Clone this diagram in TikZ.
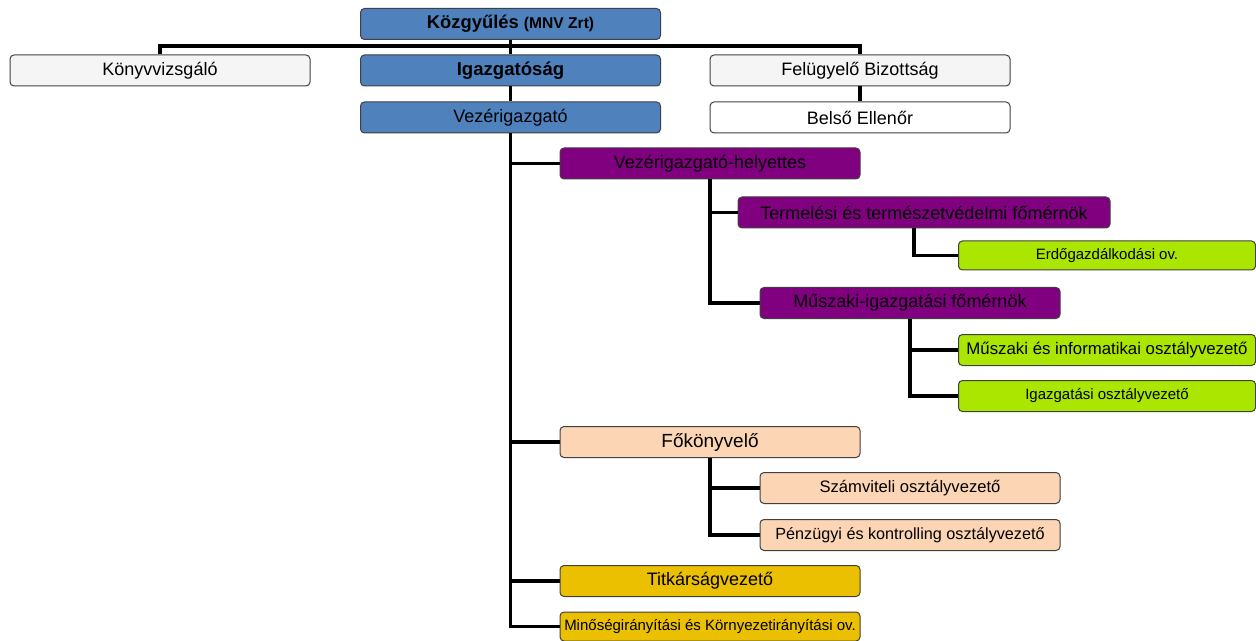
\documentclass[tikz,border=0pt]{standalone}
\usepackage{fontspec}
\setmainfont{Liberation Sans}
\usetikzlibrary{positioning}
\definecolor{boardcolor}{RGB}{79, 129, 189}
\definecolor{auditcolor}{RGB}{245, 245, 245}
\definecolor{deputycolor}{RGB}{128, 0, 128}
\definecolor{deptcolor}{RGB}{170, 230, 0}
\definecolor{financecolor}{RGB}{252, 213, 180}
\definecolor{officecolor}{RGB}{235, 192, 0}

\begin{document}
\begin{tikzpicture}[
    x=0.5pt, y=-0.5pt,
    unit/.style={rectangle, draw=black!75, line width=0.5pt, rounded corners=2pt, minimum width=150pt, minimum height=15.5pt, inner sep=0pt, align=center, font=\fontsize{9}{10}\selectfont},
    link/.style={line width=1.8pt}
]
    \useasboundingbox (0,0) rectangle (1256,641);

    % Top level
    \node[unit, fill=boardcolor, font=\fontsize{9.2}{10}\selectfont\bfseries] (kozgy) at (510.5, 24) {Közgyűlés {\fontsize{7.8}{9}\selectfont(MNV Zrt)}};
    \node[unit, fill=auditcolor] (konyv) at (160, 70.5) {Könyvvizsgáló};
    \node[unit, fill=boardcolor, font=\fontsize{9.3}{10}\selectfont\bfseries] (igaz) at (510.5, 70.5) {Igazgatóság};
    \node[unit, fill=auditcolor] (felugy) at (860, 70.5) {Felügyelő Bizottság};
    \node[unit, fill=white] (belso) at (860, 117.5) {Belső Ellenőr};
    \node[unit, fill=boardcolor] (vezer) at (510.5, 117.5) {Vezérigazgató};

    % Deputy branch
    \node[unit, fill=deputycolor] (vh) at (710, 163.5) {Vezérigazgató-helyettes};
    \node[unit, fill=deputycolor, minimum width=186pt] (term) at (924, 212.5) {Termelési és természetvédelmi főmérnök};
    \node[unit, fill=deptcolor, minimum width=148.5pt, minimum height=14.5pt, font=\fontsize{7.5}{9}\selectfont] (erdo) at (1107, 255.5) {Erdőgazdálkodási ov.};
    \node[unit, fill=deputycolor] (musz) at (910, 303) {Műszaki-igazgatási főmérnök};
    \node[unit, fill=deptcolor, minimum width=148.5pt, font=\fontsize{8.4}{9}\selectfont] (mi) at (1107, 350) {Műszaki és informatikai osztályvezető};
    \node[unit, fill=deptcolor, minimum width=148.5pt, font=\fontsize{7.5}{9}\selectfont] (ig) at (1107, 396) {Igazgatási osztályvezető};

    % Finance branch
    \node[unit, fill=financecolor, font=\fontsize{9.5}{10}\selectfont] (fokonyv) at (710, 442) {Főkönyvelő};
    \node[unit, fill=financecolor, font=\fontsize{8.3}{9}\selectfont] (szamv) at (910, 488) {Számviteli osztályvezető};
    \node[unit, fill=financecolor, font=\fontsize{8.1}{9}\selectfont] (penz) at (910, 535) {Pénzügyi és kontrolling osztályvezető};

    % Offices
    \node[unit, fill=officecolor] (titk) at (710, 581) {Titkárságvezető};
    \node[unit, fill=officecolor, minimum height=14.5pt, font=\fontsize{7.5}{9}\selectfont] (minos) at (710, 626.5) {Minőségirányítási és Környezetirányítási ov.};

    % Connectors
    \coordinate (bus) at (510.5, 46);
    \draw[link] (konyv.north) |- (bus) -| (felugy.north);
    \draw[link] (kozgy) -- (igaz);
    \draw[link] (igaz) -- (vezer);
    \draw[link] (felugy) -- (belso);

    \draw[link] (vezer.south) |- (vh.west);
    \draw[link] (vezer.south) |- (fokonyv.west);
    \draw[link] (vezer.south) |- (titk.west);
    \draw[link] (vezer.south) |- (minos.west);

    \draw[link] (vh.south) |- (term.west);
    \draw[link] (vh.south) |- (musz.west);
    \draw[link] ([xshift=-5pt]term.south) |- (erdo.west);
    \draw[link] (musz.south) |- (mi.west);
    \draw[link] (musz.south) |- (ig.west);

    \draw[link] (fokonyv.south) |- (szamv.west);
    \draw[link] (fokonyv.south) |- (penz.west);
\end{tikzpicture}
\end{document}
